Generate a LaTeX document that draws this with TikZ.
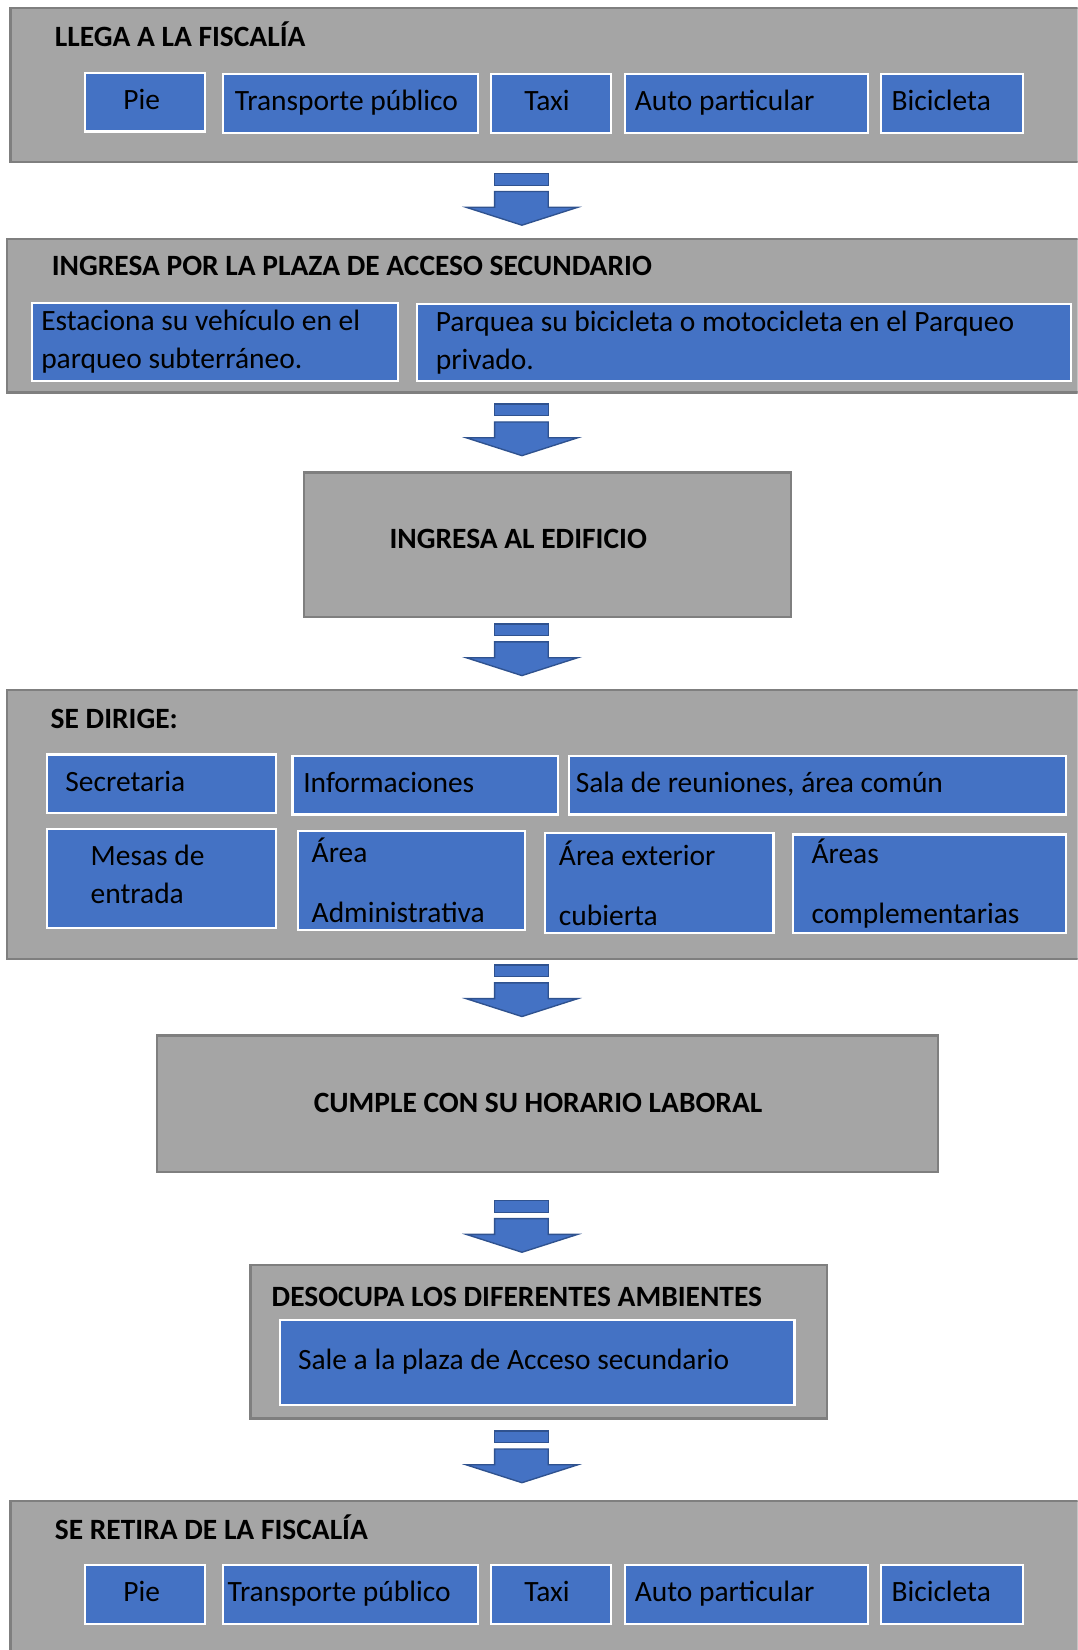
\documentclass[tikz,border=0pt]{standalone}
\usepackage{fontspec}
\setmainfont{Carlito}
\definecolor{grisclaro}{HTML}{A5A5A5}
\definecolor{gris}{HTML}{7F7F7F}
\definecolor{azul}{HTML}{4472C4}
\definecolor{azuloscuro}{HTML}{2F528F}
\newcommand\letra{\fontsize{28pt}{36pt}\selectfont}

\tikzset{
  marco/.style={draw=gris, fill=grisclaro, line width=2pt, inner sep=0pt},
  opcion/.style={draw=white, fill=azul, line width=2pt, inner sep=0pt},
  titulo/.style={font=\letra\bfseries, inner sep=0pt, anchor=base west},
  texto/.style={font=\letra, inner sep=0pt, align=left},
  linea/.style={texto, text height=21pt, text depth=7pt},
  flecha/.style={draw=azuloscuro, fill=azul, line width=1.3pt, line join=miter}
}

% caja gris: nombre, x1, y1, x2, y2
\newcommand\bloque[5]{%
  \node[marco, minimum width={#4-#2}, minimum height={#5-#3}] (#1) at ({(#2+#4)/2},{(#3+#5)/2}) {};}
% caja azul con su texto: [estilo], nombre, x1, y1, x2, y2, margen, texto
\newcommand\opcion[8][linea]{%
  \node[opcion, minimum width={#5-#3}, minimum height={#6-#4}] (#2) at ({(#3+#5)/2},{(#4+#6)/2}) {};
  \node[#1, anchor=west] (#2-t) at ([xshift=#7]#2.west) {#8};}
% flecha de bloque hacia abajo, #1 = borde superior
\newcommand\flecha[1]{%
  \draw[flecha] (470,#1) rectangle (521,#1+11);
  \draw[flecha] (470,#1+17) -- (521,#1+17) -- (521,#1+32) -- (549,#1+32)
    -- (496,#1+49) -- (443,#1+32) -- (470,#1+32) -- cycle;}

\begin{document}
\begin{tikzpicture}[x=1pt,y=-1pt]
  \useasboundingbox (0,0) rectangle (1024,1568);
  \clip (0,0) rectangle (1024,1568);

  % llegada
  \bloque{llega}{10}{8}{1040}{154}
  \node[titulo] (llega-t) at (52,44) {LLEGA A LA FISCALÍA};
  \opcion{pie1}{81}{69}{195}{125}{37}{Pie}
  \opcion{bus1}{212}{70}{454}{126}{12}{Transporte público}
  \opcion{taxi1}{467}{70}{581}{126}{32}{Taxi}
  \opcion{auto1}{594}{70}{825}{126}{10}{Auto particular}
  \opcion{bici1}{837}{70}{972}{126}{11}{Bicicleta}
  \flecha{165}

  % acceso secundario
  \bloque{ingresa}{7}{227}{1040}{373}
  \node[titulo] (ingresa-t) at (49,262) {INGRESA POR LA PLAZA DE ACCESO SECUNDARIO};
  \opcion[texto]{estaciona}{30}{288}{378}{362}{10}{Estaciona su vehículo en el\\parqueo subterráneo.}
  \opcion[texto]{parquea}{396}{289}{1018}{362}{19}{Parquea su bicicleta o motocicleta en el Parqueo\\privado.}
  \flecha{384}

  % edificio
  \bloque{edificio}{289}{449}{752}{586}
  \node[titulo] (edificio-t) at (370,521) {INGRESA AL EDIFICIO};
  \flecha{593}

  % destinos
  \bloque{dirige}{7}{656}{1040}{911}
  \node[titulo] (dirige-t) at (48,692) {SE DIRIGE:};
  \opcion{secretaria}{45}{717}{262}{773}{18}{Secretaria}
  \opcion{info}{278}{718}{530}{774}{11}{Informaciones}
  \opcion{sala}{541}{718}{1013}{774}{7}{Sala de reuniones, área común}
  \opcion[texto, yshift=4pt]{mesas}{45}{788}{262}{882}{42}{Mesas de\\entrada}
  \opcion[texto]{admin}{283}{790}{499}{884}{14}{Área\\[21pt]Administrativa}
  \opcion[texto]{exterior}{518}{792}{735}{887}{14}{Área exterior\\[21pt]cubierta}
  \opcion[texto]{compl}{754}{793}{1013}{887}{18}{Áreas\\[21pt]complementarias}
  \flecha{917}

  % jornada
  \bloque{cumple}{149}{984}{891}{1114}
  \node[titulo] (cumple-t) at (298,1057) {CUMPLE CON SU HORARIO LABORAL};
  \flecha{1141}

  % salida
  \bloque{desocupa}{238}{1202}{786}{1348}
  \node[titulo] (desocupa-t) at (258,1242) {DESOCUPA LOS DIFERENTES AMBIENTES};
  \opcion{sale}{266}{1254}{755}{1335}{18}{Sale a la plaza de Acceso secundario}
  \flecha{1360}

  % retiro
  \bloque{retira}{10}{1426}{1040}{1600}
  \node[titulo] (retira-t) at (52,1463) {SE RETIRA DE LA FISCALÍA};
  \opcion{pie2}{81}{1487}{195}{1543}{37}{Pie}
  \opcion{bus2}{212}{1487}{454}{1543}{5}{Transporte público}
  \opcion{taxi2}{467}{1487}{581}{1543}{32}{Taxi}
  \opcion{auto2}{594}{1487}{825}{1543}{10}{Auto particular}
  \opcion{bici2}{837}{1487}{972}{1543}{11}{Bicicleta}
\end{tikzpicture}
\end{document}
